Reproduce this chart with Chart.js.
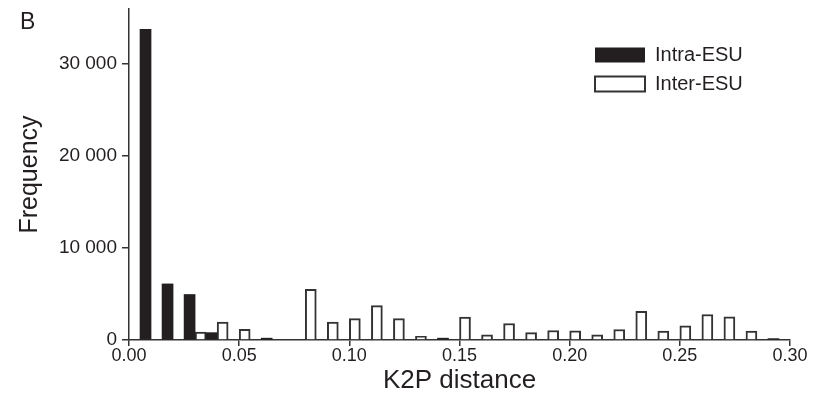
<!DOCTYPE html>
<html lang="en">
<head>
  <meta charset="UTF-8" />
  <title>K2P distance histogram</title>
  <script src="https://cdn.jsdelivr.net/npm/chart.js"></script>
  <style>
    body { margin: 0; background: #fff; }
    #wrap { position: relative; width: 823px; height: 401px; }
    #panel { position: absolute; left: 20px; top: 10px; font: 23px/1 "Liberation Sans", Arial, sans-serif; color: #231f20; }
  </style>
</head>
<body>
  <div id="wrap">
    <canvas id="histChart" width="823" height="401"></canvas>
    <div id="panel">B</div>
  </div>

  <script>
    // bin centres (bins are 0.005 wide) and counts
    const intraX = [0.0075, 0.0175, 0.0275, 0.0375, 0.0625, 0.1425, 0.2925];
    const intraY = [33800, 6100, 4950, 800, 200, 200, 150];

    const interX = [0.0325, 0.0425, 0.0525, 0.0825, 0.0925, 0.1025, 0.1125, 0.1225, 0.1325,
                    0.1525, 0.1625, 0.1725, 0.1825, 0.1925, 0.2025, 0.2125, 0.2225, 0.2325,
                    0.2425, 0.2525, 0.2625, 0.2725, 0.2825];
    const interY = [850, 1950, 1150, 5500, 1950, 2330, 3740, 2330, 400,
                    2500, 560, 1790, 810, 1030, 1000, 560, 1140, 3120,
                    960, 1540, 2770, 2520, 960];

    const yTicks = [0, 10000, 20000, 30000];

    const ink = '#231f20';
    Chart.defaults.font.family = '"Liberation Sans", Arial, sans-serif';
    Chart.defaults.color = ink;

    // put the legend in the upper right of the plot
    const legendSpot = {
      id: 'legendSpot',
      afterLayout(chart) {
        const a = chart.chartArea;
        chart.legend.left = a.right - 204;
        chart.legend.top = a.top + 27;
      }
    };

    new Chart(document.getElementById('histChart'), {
      type: 'bar',
      data: {
        datasets: [{
          label: 'Intra-ESU',
          data: intraX.map((x, i) => ({ x: x, y: intraY[i] })),
          backgroundColor: ink,
          borderColor: ink,
          borderWidth: 0,
          grouped: false,
          barPercentage: 1,
          categoryPercentage: 1
        }, {
          label: 'Inter-ESU',
          data: interX.map((x, i) => ({ x: x, y: interY[i] })),
          backgroundColor: '#ffffff',
          borderColor: '#333333',
          borderWidth: 2,
          grouped: false,
          barPercentage: 1,
          categoryPercentage: 1
        }]
      },
      options: {
        responsive: false,
        animation: false,
        layout: { padding: { left: 14, right: 33, top: 9, bottom: 5 } },
        plugins: {
          tooltip: { enabled: false },
          legend: {
            position: 'chartArea',
            align: 'start',
            labels: {
              boxWidth: 50,
              boxHeight: 15,
              padding: 9,
              font: { size: 20 },
              color: ink
            }
          }
        },
        scales: {
          x: {
            type: 'linear',
            min: 0,
            max: 0.3,
            offset: false,
            border: { color: '#333', width: 1.5 },
            grid: { offset: false, drawOnChartArea: false, tickLength: 6, color: '#333', lineWidth: 1.5 },
            ticks: {
              stepSize: 0.05,
              padding: -1,
              maxRotation: 0,
              font: { size: 18 },
              color: ink,
              callback: v => v.toFixed(2)
            },
            title: { display: true, text: 'K2P distance', font: { size: 26 }, color: ink, padding: 0 },
            afterFit(s) { s.height = 56; }
          },
          y: {
            min: 0,
            max: 36000,
            border: { color: '#333', width: 1.5 },
            grid: { drawOnChartArea: false, tickLength: 7, color: '#333', lineWidth: 1.5 },
            afterBuildTicks(s) { s.ticks = yTicks.map(v => ({ value: v })); },
            ticks: {
              padding: 5,
              font: { size: 19 },
              color: ink,
              callback: v => String(v).replace(/\B(?=(\d{3})+(?!\d))/g, ' ')
            },
            title: { display: true, text: 'Frequency', font: { size: 25 }, color: ink, padding: { top: 1, bottom: 0 } },
            afterFit(s) { s.width = 115; s.paddingTop = 0; }
          }
        }
      },
      plugins: [legendSpot]
    });
  </script>
</body>
</html>
